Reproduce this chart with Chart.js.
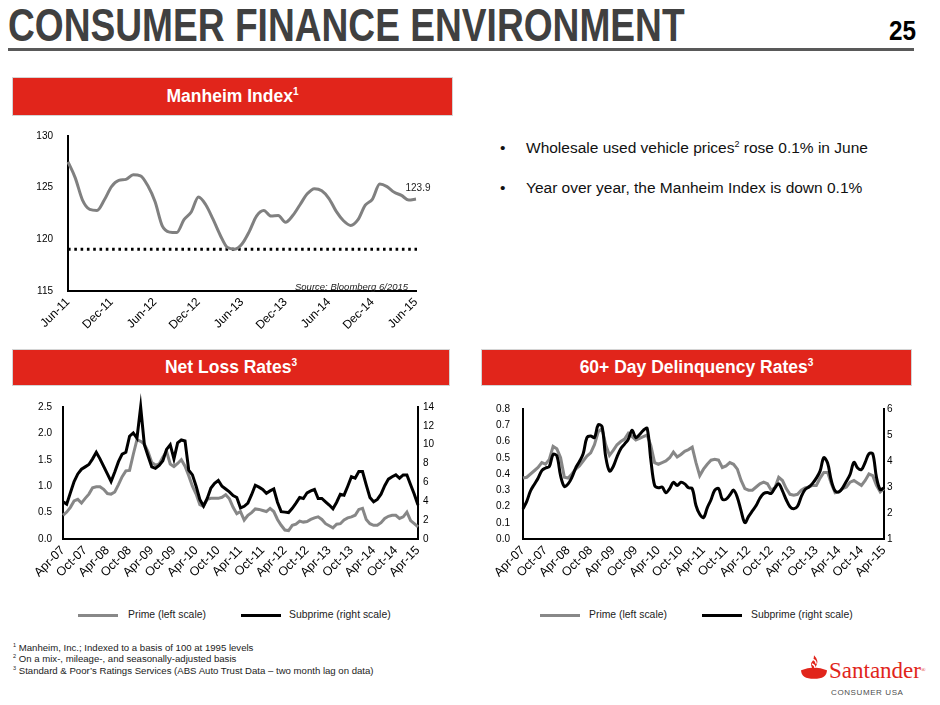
<!DOCTYPE html>
<html><head><meta charset="utf-8">
<script src="https://cdn.jsdelivr.net/npm/chart.js@4.4.1/dist/chart.umd.min.js"></script>
<style>
html,body{margin:0;padding:0;background:#fff;}
body{width:940px;height:705px;position:relative;overflow:hidden;font-family:'Liberation Sans',Arial,sans-serif;color:#111;}
.abs{position:absolute;white-space:nowrap;}
.box{position:absolute;background:#E1251B;color:#fff;font-weight:bold;font-size:17.5px;text-align:center;box-sizing:border-box;border:1px solid #d4d4d4;}
sup{font-size:58%;line-height:0;vertical-align:super;}
.wrap{position:absolute;}
.leg{position:absolute;font-size:10.4px;line-height:12px;color:#222;white-space:nowrap;}
.sw{position:absolute;height:3px;width:40px;}
.fn{position:absolute;font-size:9.6px;line-height:11px;color:#222;white-space:nowrap;}
</style>
</head>
<body>
<div class="abs" style="left:8px;top:1px;font-size:47px;line-height:48px;font-weight:bold;color:#404040;transform:scaleX(0.79);transform-origin:0 0;">CONSUMER FINANCE ENVIRONMENT</div>
<div class="abs" style="left:870px;width:46px;text-align:right;top:18px;font-size:27px;line-height:27px;font-weight:bold;color:#000;transform:scaleX(0.9);transform-origin:100% 0;">25</div>
<div class="abs" style="left:8px;top:48px;width:906px;height:3px;background:#595959;"></div>

<div class="box" style="left:12px;top:77px;width:441px;height:39px;line-height:37px;">Manheim Index<sup>1</sup></div>
<div class="box" style="left:12px;top:349px;width:438px;height:37px;line-height:35px;">Net Loss Rates<sup>3</sup></div>
<div class="box" style="left:481px;top:349px;width:431px;height:37px;line-height:35px;">60+ Day Delinquency Rates<sup>3</sup></div>

<div class="abs" style="left:500px;top:139px;font-size:15.5px;line-height:18px;">•</div>
<div class="abs" style="left:526px;top:139px;font-size:15.5px;line-height:18px;">Wholesale used vehicle prices<sup>2</sup> rose 0.1% in June</div>
<div class="abs" style="left:500px;top:179px;font-size:15.5px;line-height:18px;">•</div>
<div class="abs" style="left:526px;top:179px;font-size:15.5px;line-height:18px;">Year over year, the Manheim Index is down 0.1%</div>

<div class="wrap" style="left:20px;top:115px;width:420px;height:230px;"><canvas id="manheim" width="420" height="230"></canvas></div>
<div class="abs" style="left:295px;top:281px;font-size:9.5px;line-height:11px;font-style:italic;color:#222;">Source: Bloomberg 6/2015</div>

<div class="wrap" style="left:10px;top:390px;width:440px;height:200px;"><canvas id="netloss" width="440" height="200"></canvas></div>
<div class="wrap" style="left:470px;top:390px;width:450px;height:200px;"><canvas id="delinq" width="450" height="200"></canvas></div>

<div class="sw" style="left:78px;top:614px;background:#888;"></div>
<div class="leg" style="left:128px;top:609px;">Prime (left scale)</div>
<div class="sw" style="left:241px;top:614px;background:#000;"></div>
<div class="leg" style="left:289px;top:609px;">Subprime (right scale)</div>
<div class="sw" style="left:540px;top:614px;background:#888;"></div>
<div class="leg" style="left:589px;top:609px;">Prime (left scale)</div>
<div class="sw" style="left:702px;top:614px;background:#000;"></div>
<div class="leg" style="left:751px;top:609px;">Subprime (right scale)</div>

<div class="fn" style="left:13px;top:642px;"><sup>1</sup> Manheim, Inc.; Indexed to a basis of 100 at 1995 levels</div>
<div class="fn" style="left:13px;top:653px;"><sup>2</sup> On a mix-, mileage-, and seasonally-adjusted basis</div>
<div class="fn" style="left:13px;top:665px;"><sup>3</sup> Standard &amp; Poor’s Ratings Services (ABS Auto Trust Data – two month lag on data)</div>

<svg class="abs" style="left:800px;top:654px;" width="28" height="26" viewBox="0 0 26 24">
  <path d="M1 15 Q13 10 25 15 Q25 23 13 23 Q1 23 1 15 Z" fill="#E1251B"/>
  <path d="M13 1 Q18 6 15 11 Q14 13 13 15 Q8 10 12 6 Q13 4 13 1 Z" fill="#E1251B"/>
  <path d="M11 9 Q14 10 14 13" stroke="#fff" stroke-width="1.2" fill="none"/>
  <path d="M12 5 Q15 6 15 9" stroke="#fff" stroke-width="1.2" fill="none"/>
</svg>
<div class="abs" style="left:829px;top:659px;font-family:'Liberation Serif','DejaVu Serif',serif;font-size:23px;line-height:23px;color:#E1251B;">Santander<span style="font-size:6px;vertical-align:top;">®</span></div>
<div class="abs" style="left:831px;top:688px;font-size:8px;line-height:9px;letter-spacing:0.6px;color:#4d4d4d;">CONSUMER USA</div>

<script>
const FONT = "'Liberation Sans', Arial, sans-serif";
const MONTHS = ['Jan','Feb','Mar','Apr','May','Jun','Jul','Aug','Sep','Oct','Nov','Dec'];
function monthLabels(startMonth, startYear, count) {
  const out = [];
  for (let i = 0; i < count; i++) {
    const m = (startMonth + i) % 12;
    const y = startYear + Math.floor((startMonth + i) / 12);
    out.push(MONTHS[m] + '-' + String(y % 100).padStart(2, '0'));
  }
  return out;
}

// ---- Manheim Index (Jun-11 .. Jun-15, monthly)
const manheimLabels = monthLabels(5, 2011, 49);
const manheimIndex = [127.5, 125.95, 123.8, 122.9, 122.8, 123.8, 125.1, 125.7, 125.8, 126.25,
  126.15, 125.2, 123.65, 121.3, 120.7, 120.65, 121.9, 122.65, 124.1, 123.35,
  121.95, 120.4, 119.2, 119.05, 119.55, 120.75, 122.25, 122.8, 122.25, 122.3,
  121.65, 122.3, 123.35, 124.4, 124.9, 124.7, 123.95, 122.7, 121.8, 121.35,
  121.9, 123.3, 123.9, 125.35, 125.1, 124.55, 124.25, 123.8, 123.9];
const manheimFloor = 119.05;
const manheimAxis = {min: 115, max: 130, step: 5};

// ---- Net loss rates (Apr-07 .. Apr-15, monthly)
const rateLabels = monthLabels(3, 2007, 97);
const netLossPrime = [0.45, 0.51, 0.60, 0.72, 0.75, 0.68, 0.77, 0.85, 0.97, 0.99,
  0.99, 0.94, 0.86, 0.85, 0.89, 1.03, 1.18, 1.29, 1.30, 1.60,
  1.88, 1.85, 1.80, 1.65, 1.45, 1.40, 1.42, 1.55, 1.66, 1.42,
  1.37, 1.43, 1.50, 1.38, 1.20, 1.00, 0.85, 0.65, 0.62, 0.75,
  0.77, 0.77, 0.77, 0.79, 0.84, 0.76, 0.60, 0.48, 0.52, 0.36,
  0.45, 0.50, 0.57, 0.56, 0.54, 0.52, 0.58, 0.52, 0.37, 0.26,
  0.17, 0.16, 0.26, 0.28, 0.34, 0.32, 0.33, 0.37, 0.40, 0.42,
  0.37, 0.29, 0.25, 0.21, 0.28, 0.29, 0.36, 0.40, 0.42, 0.45,
  0.56, 0.58, 0.37, 0.29, 0.26, 0.26, 0.31, 0.39, 0.43, 0.45,
  0.45, 0.39, 0.42, 0.51, 0.35, 0.29, 0.23];
const netLossSubprime = [3.95, 3.7, 4.9, 6.1, 6.9, 7.4, 7.65, 7.9, 8.5, 9.2,
  8.5, 7.7, 6.9, 6.1, 7.1, 8.2, 9.0, 9.2, 10.9, 11.25,
  10.7, 14.0, 10.0, 8.8, 7.65, 7.5, 7.8, 8.3, 9.5, 10.0,
  8.5, 10.2, 10.5, 10.4, 7.3, 6.8, 5.6, 4.2, 3.5, 4.3,
  5.4, 5.9, 6.2, 5.6, 5.3, 5.0, 4.6, 4.4, 3.3, 3.47,
  3.8, 4.7, 5.7, 5.5, 5.25, 4.85, 5.1, 5.3, 3.9, 2.9,
  2.85, 2.8, 3.25, 3.8, 4.4, 4.3, 4.9, 5.1, 5.25, 4.3,
  4.3, 3.95, 3.6, 3.2, 3.9, 4.75, 4.65, 5.6, 6.6, 6.45,
  7.15, 7.15, 5.75, 4.4, 3.95, 4.2, 4.75, 5.65, 6.35, 6.6,
  6.8, 6.45, 6.8, 6.8, 5.75, 4.75, 3.6];
const netLossLeftAxis = {min: 0, max: 2.5, step: 0.5};
const netLossRightAxis = {min: 0, max: 14, step: 2};

// ---- 60+ day delinquency rates (Apr-07 .. Apr-15, monthly)
const delinqPrime = [0.375, 0.38, 0.40, 0.42, 0.44, 0.47, 0.46, 0.49, 0.57, 0.555,
  0.50, 0.38, 0.375, 0.40, 0.43, 0.45, 0.48, 0.51, 0.53, 0.58,
  0.66, 0.68, 0.58, 0.515, 0.545, 0.58, 0.60, 0.615, 0.65, 0.63,
  0.61, 0.62, 0.63, 0.64, 0.575, 0.47, 0.46, 0.47, 0.48, 0.50,
  0.535, 0.505, 0.52, 0.54, 0.55, 0.565, 0.47, 0.39, 0.43, 0.46,
  0.485, 0.49, 0.485, 0.44, 0.45, 0.47, 0.46, 0.43, 0.36, 0.31,
  0.30, 0.30, 0.32, 0.34, 0.35, 0.34, 0.30, 0.315, 0.38, 0.36,
  0.31, 0.275, 0.27, 0.275, 0.30, 0.315, 0.32, 0.33, 0.33, 0.375,
  0.41, 0.41, 0.34, 0.285, 0.29, 0.31, 0.32, 0.35, 0.36, 0.345,
  0.33, 0.36, 0.40, 0.39, 0.33, 0.29, 0.31];
const delinqSubprime = [2.16, 2.45, 2.85, 3.1, 3.34, 3.63, 3.73, 3.79, 4.25, 4.2,
  3.43, 3.02, 3.12, 3.37, 3.73, 3.98, 4.28, 4.9, 4.96, 4.9,
  5.39, 5.33, 4.16, 3.61, 3.79, 4.16, 4.47, 4.65, 4.84, 5.18,
  4.9, 5.02, 5.18, 5.26, 4.04, 3.06, 2.97, 3.0, 2.78, 2.94,
  3.18, 3.06, 3.18, 3.12, 2.97, 2.94, 2.29, 1.95, 1.82, 2.2,
  2.51, 2.88, 2.94, 2.53, 2.53, 2.69, 2.88, 2.6, 2.08, 1.63,
  1.87, 2.08, 2.29, 2.57, 2.75, 2.79, 2.75, 2.97, 3.12, 2.85,
  2.51, 2.24, 2.16, 2.26, 2.63, 2.9, 3.0, 3.14, 3.34, 3.61,
  4.13, 3.92, 3.24, 2.85, 2.81, 2.97, 3.22, 3.49, 3.95, 3.73,
  3.67, 3.95, 4.28, 4.28, 3.37, 2.9, 2.97];
const delinqLeftAxis = {min: 0, max: 0.8, step: 0.1};
const delinqRightAxis = {min: 1, max: 6, step: 1};

const GRAY = '#878787';
const BLACK = '#000000';
const TICK_FONT = {family: FONT, size: 10};

function xAxis(height, size) {
  return {
    type: 'category',
    offset: false,
    grid: {display: false, drawTicks: false},
    border: {display: true, color: '#000', width: 2},
    ticks: {
      autoSkip: false, minRotation: 45, maxRotation: 45, padding: 4,
      color: '#000', font: {family: FONT, size: size},
      callback: function (v, i) { return i % 6 === 0 ? this.getLabelForValue(v) : ''; }
    },
    afterFit: s => { s.height = height; }
  };
}
function yAxis(pos, ax, width, pad, digits) {
  return {
    type: 'linear', position: pos, min: ax.min, max: ax.max,
    grid: {display: false, drawTicks: false},
    border: {display: true, color: '#000', width: 2},
    ticks: {stepSize: ax.step, padding: pad, color: '#000', font: TICK_FONT,
      callback: v => Number(v).toFixed(digits)},
    afterFit: s => { s.width = width; }
  };
}
const baseOpts = {
  responsive: false, animation: false, devicePixelRatio: 1,
  plugins: {legend: {display: false}, tooltip: {enabled: false}},
  elements: {point: {radius: 0}}
};

// Manheim chart
const manheimExtras = {
  id: 'manheimExtras',
  beforeDatasetsDraw(chart) {
    const {ctx, chartArea: a, scales: {y}} = chart;
    const yy = y.getPixelForValue(manheimFloor);
    ctx.save();
    ctx.strokeStyle = '#000'; ctx.lineWidth = 3; ctx.setLineDash([2.6, 3.7]);
    ctx.beginPath(); ctx.moveTo(a.left, yy); ctx.lineTo(a.right + 1, yy); ctx.stroke();
    ctx.restore();
  },
  afterDatasetsDraw(chart) {
    const {ctx} = chart;
    const meta = chart.getDatasetMeta(0);
    const pt = meta.data[meta.data.length - 1];
    const v = manheimIndex[manheimIndex.length - 1];
    ctx.save();
    ctx.fillStyle = '#222'; ctx.font = "10px " + FONT;
    ctx.textAlign = 'center'; ctx.textBaseline = 'middle';
    ctx.fillText(v.toFixed(1), pt.x + 2, pt.y - 11);
    ctx.restore();
  }
};
new Chart(document.getElementById('manheim'), {
  type: 'line',
  data: {labels: manheimLabels, datasets: [{
    data: manheimIndex, borderColor: '#808080', borderWidth: 3, tension: 0.4,
    cubicInterpolationMode: 'monotone', fill: false, clip: false
  }]},
  options: Object.assign({}, baseOpts, {
    layout: {padding: {top: 13, right: 24, left: 0, bottom: 0}},
    scales: {
      x: xAxis(54, 12),
      y: yAxis('left', manheimAxis, 48, 15, 0)
    }
  }),
  plugins: [manheimExtras]
});

function dualChart(id, primeData, subData, leftAx, rightAx, leftW, rightW, leftPad, rightPad, subTension, rightDigits) {
  return new Chart(document.getElementById(id), {
    type: 'line',
    data: {labels: rateLabels, datasets: [
      {label: 'Subprime (right scale)', data: subData, yAxisID: 'y1', borderColor: BLACK, borderWidth: 3,
        tension: subTension, fill: false, clip: false},
      {label: 'Prime (left scale)', data: primeData, yAxisID: 'y', borderColor: GRAY, borderWidth: 3,
        tension: 0, fill: false, clip: false}
    ]},
    options: Object.assign({}, baseOpts, {
      layout: {padding: {top: 13, right: 0, left: 0, bottom: 0}},
      scales: {
        x: xAxis(51, 12.5),
        y: yAxis('left', leftAx, leftW, leftPad, 1),
        y1: yAxis('right', rightAx, rightW, rightPad, rightDigits)
      }
    })
  });
}
dualChart('netloss', netLossPrime, netLossSubprime, netLossLeftAxis, netLossRightAxis, 53, 32, 11, 5, 0, 0);
dualChart('delinq', delinqPrime, delinqSubprime, delinqLeftAxis, delinqRightAxis, 53, 36, 13, 3, 0.35, 0);
</script>
</body></html>
